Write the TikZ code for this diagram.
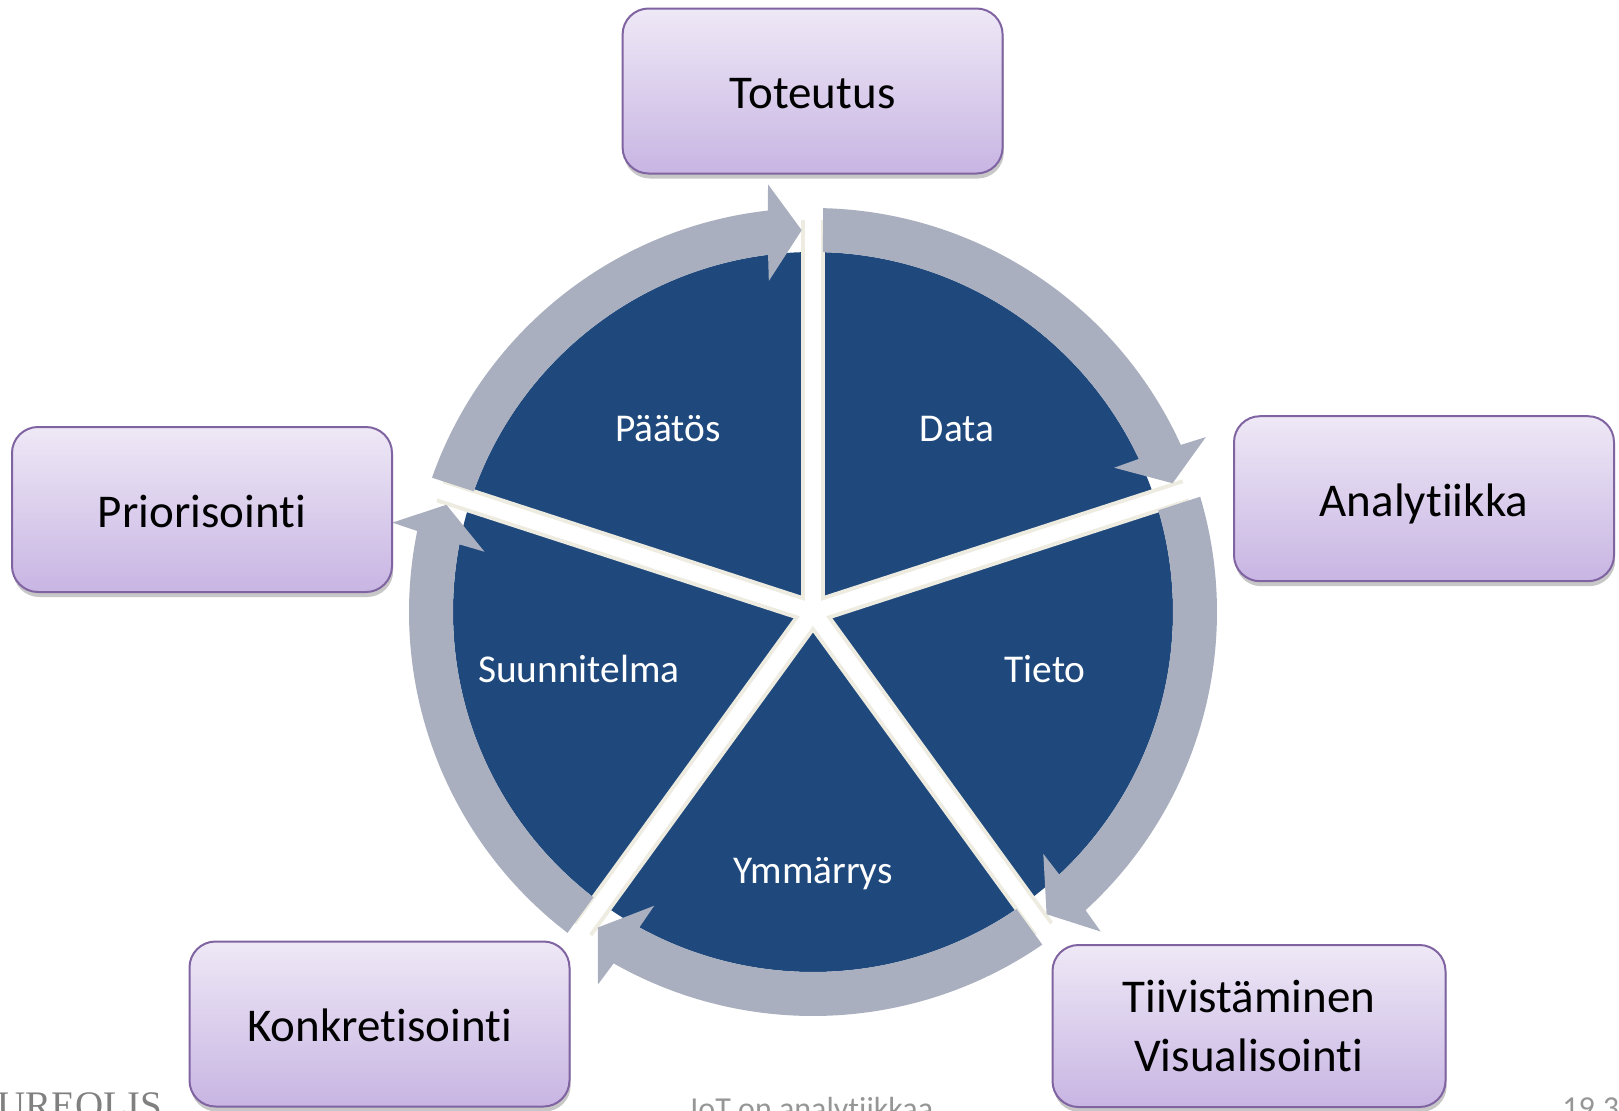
\documentclass[tikz,border=0pt]{standalone}
\usepackage{fontspec}
\setmainfont{Carlito}[Ligatures={NoCommon}]
\newfontfamily\footserif{Liberation Serif}
\usetikzlibrary{shadows}
\definecolor{pieblue}{RGB}{31,73,125}
\definecolor{ringgray}{RGB}{169,175,190}
\definecolor{creamedge}{RGB}{238,236,225}
\definecolor{boxtop}{RGB}{238,232,246}
\definecolor{boxbot}{RGB}{200,181,227}
\definecolor{boxline}{RGB}{128,100,162}
\definecolor{footgray}{RGB}{128,128,128}
\definecolor{footlight}{RGB}{150,150,150}
\begin{document}
\begin{tikzpicture}[x=0.5pt,y=0.5pt,
  stagebox/.style={draw=boxline, line width=1pt, rounded corners=13pt,
    top color=boxtop, bottom color=boxbot,
    minimum width=190pt, minimum height=82.5pt, align=center,
    font=\fontsize{23.5}{28.3}\selectfont, text=black,
    drop shadow={shadow xshift=0.6pt, shadow yshift=-2.5pt, opacity=0.22, fill=black}},
  onelinebox/.style={stagebox, text height=19pt, text depth=1.4pt},
  pielabel/.style={text=white, font=\fontsize{19.7}{23}\selectfont},
  footnote/.style={anchor=base west, inner sep=0pt},
]
\useasboundingbox (0,0) rectangle (1619,-1110);
\clip (0,0) rectangle (1619,-1110);
\coordinate (C) at (813,-612);
% pie
\fill[pieblue] (C) circle[radius=360];
\foreach \a in {90,18,-54,-126,162} \draw[creamedge, line width=12pt] (C) -- ++(\a:392);
\foreach \a in {90,18,-54,-126,162} \draw[white, line width=8pt] (C) -- ++(\a:394);
% ring arrows
\begin{scope}[shift={(C)}]
\foreach \s in {90,18,-54,-126,162} {
  \pgfmathsetmacro\sa{\s-1.42}
  \pgfmathsetmacro\sb{\s-1.59}
  \pgfmathsetmacro\tp{\s-72+1.7}
  \pgfmathsetmacro\ea{\tp+4.73}
  \pgfmathsetmacro\eb{\tp+5.47}
  \pgfmathsetmacro\ba{\tp+4.3}
  \pgfmathsetmacro\bb{\tp+5.9}
  \fill[ringgray] (\sa:404) arc[start angle=\sa, end angle=\ea, radius=404]
    -- (\ba:430) -- (\tp:382) -- (\bb:334) -- (\eb:360)
    arc[start angle=\eb, end angle=\sb, radius=360] -- cycle;
}
\end{scope}
% pie labels
\node[pielabel] (paatos) at (668,-428.5) {Päätös};
\node[pielabel] (data) at (957,-428.5) {Data};
\node[pielabel] (tieto) at (1045,-669) {Tieto};
\node[pielabel] (ymmarrys) at (813,-874) {Ymmärrys};
\node[pielabel] (suunnitelma) at (579,-669) {Suunnitelma};
% boxes
\node[onelinebox] (toteutus) at (812.6,-91) {Toteutus};
\node[onelinebox] (prior) at (202,-509.5) {Priorisointi};
\node[onelinebox] (analyt) at (1424,-498.7) {Analytiikka};
\node[onelinebox] (konkr) at (379.5,-1024) {Konkretisointi};
\node[stagebox, minimum width=196.5pt, minimum height=81pt] (tiiv) at (1249,-1026) {Tiivistäminen\\[1pt]Visualisointi};
% footer
\node[footnote, text=footgray, font=\footserif\fontsize{19.5}{20}\selectfont] (logo) at (-3,-1118) {UREOLIS};
\node[footnote, text=footlight, font=\fontsize{16}{18}\selectfont] (footer) at (690,-1119) {IoT on analytiikkaa};
\node[footnote, text=footlight, font=\fontsize{16}{18}\selectfont] (date) at (1562,-1118) {19.3};
\end{tikzpicture}
\end{document}
